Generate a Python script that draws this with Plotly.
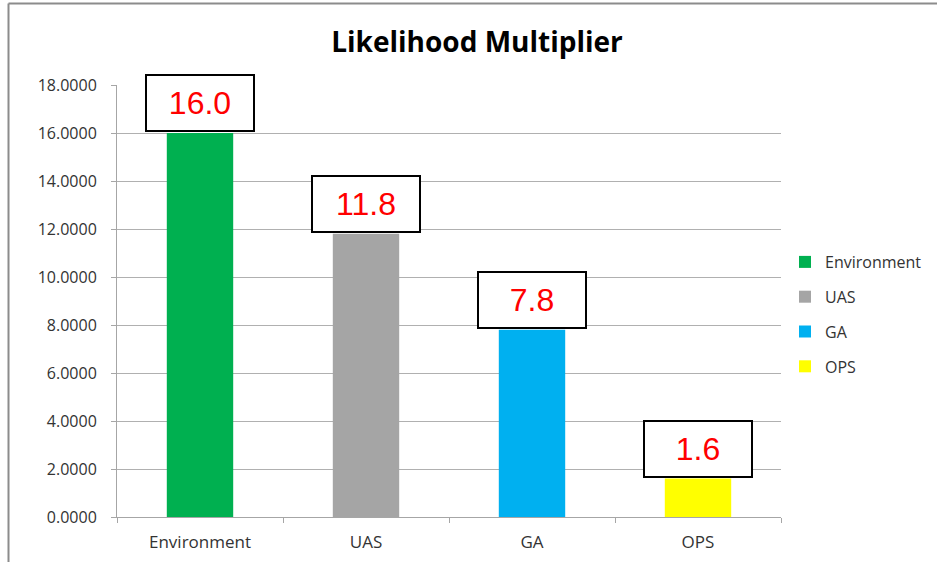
import plotly.graph_objects as go

categories = ["Environment", "UAS", "GA", "OPS"]
values = [16.0, 11.8, 7.8, 1.6]
colors = ["#00B050", "#A5A5A5", "#00B0F0", "#FFFF00"]
y_ticks = [0, 2, 4, 6, 8, 10, 12, 14, 16, 18]

W, H = 937, 562
ml, mr, mt, mb = 117, 156, 85, 45
pw, ph = W - ml - mr, H - mt - mb

fig = go.Figure()
for c, v, col in zip(categories, values, colors):
    fig.add_trace(go.Bar(
        x=[c], y=[v], name=c, marker=dict(color=col, line=dict(width=0)),
        width=0.4, legendgroup=c, hoverinfo="skip",
    ))

for c, v in zip(categories, values):
    fig.add_annotation(
        x=c, y=v, xref="x", yref="y", text=f"{v:.1f}", showarrow=False,
        yanchor="bottom", yshift=1, width=106, height=54,
        bordercolor="black", borderwidth=2, borderpad=0, bgcolor="white",
        font=dict(family="Arial, Liberation Sans", size=32, color="#FF0000"),
    )

# outer chart border (top and left only visible)
px = lambda x: (x - ml) / pw
py = lambda y: 1 - (y - mt) / ph
fig.add_shape(type="line", xref="paper", yref="paper",
              x0=px(8.5), x1=px(W + 5), y0=py(3.5), y1=py(3.5),
              line=dict(color="#8C8C8C", width=2))
fig.add_shape(type="line", xref="paper", yref="paper",
              x0=px(8.5), x1=px(8.5), y0=py(3.5), y1=py(H + 5),
              line=dict(color="#8C8C8C", width=2))

fig.update_layout(
    width=W, height=H,
    margin=dict(l=ml, r=mr, t=mt, b=mb, autoexpand=False),
    paper_bgcolor="white", plot_bgcolor="white",
    barmode="overlay",
    title=dict(text="<b>Likelihood Multiplier</b>", x=477 / W, xanchor="center",
               y=1 - 42 / H, yanchor="middle",
               font=dict(family="Open Sans", size=28, color="black")),
    font=dict(family="Open Sans", size=16, color="#333333"),
    legend=dict(x=px(785), xanchor="left", y=py(245), yanchor="top",
                font=dict(family="Open Sans", size=16, color="#333333"),
                tracegroupgap=11, itemwidth=30, bgcolor="rgba(0,0,0,0)"),
    showlegend=True,
)
fig.update_xaxes(
    categoryorder="array", categoryarray=categories,
    showline=True, linecolor="#A6A6A6", linewidth=1,
    ticks="outside", tickson="boundaries", ticklen=5, tickcolor="#A6A6A6",
    showgrid=False, tickfont=dict(size=17, color="#333333"),
    ticklabelstandoff=10,
)
fig.update_yaxes(
    range=[0, 18], tickvals=y_ticks, tickformat=".4f",
    showline=True, linecolor="#A6A6A6", linewidth=1,
    ticks="outside", ticklen=5, tickcolor="#A6A6A6",
    showgrid=True, gridcolor="#B0B0B0", gridwidth=1,
    zeroline=False, ticklabelstandoff=11,
    tickfont=dict(size=16, color="#333333"),
)

fig.write_html("out.html", config={"displayModeBar": False},
               post_script="document.body.style.margin='0px';")
